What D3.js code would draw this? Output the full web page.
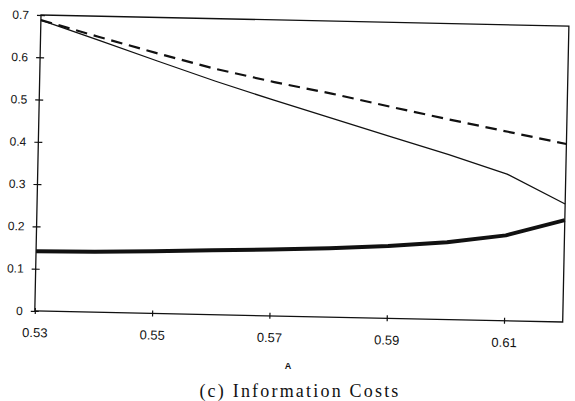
<!DOCTYPE html>
<html>
<head>
<meta charset="utf-8">
<script src="https://cdn.jsdelivr.net/npm/d3@7"></script>
<style>
	body { margin: 0; background: #fff; }
	#graphic { width: 575px; height: 401px; }
	.axis text { font-family: "Liberation Sans", Arial, sans-serif; fill: #111; }
	.axis line { stroke: #111; stroke-width: 1.2; }
</style>
</head>
<body>
<div id="graphic"></div>
<script>
// values (x = A, three series)
var categories = [0.53, 0.54, 0.55, 0.56, 0.57, 0.58, 0.59, 0.60, 0.61, 0.62];
var dashedSeries = [0.688, 0.651, 0.615, 0.581, 0.553, 0.528, 0.500, 0.473, 0.447, 0.421];
var thinSeries = [0.688, 0.643, 0.597, 0.552, 0.510, 0.470, 0.430, 0.390, 0.347, 0.279];
var thickSeries = [0.141, 0.143, 0.147, 0.152, 0.157, 0.163, 0.171, 0.183, 0.202, 0.241];
var xTickLabels = [0.53, 0.55, 0.57, 0.59, 0.61];
var yTickLabels = [0, 0.1, 0.2, 0.3, 0.4, 0.5, 0.6, 0.7];
var xAxisTitle = "A";
var caption = "(c) Information Costs";

var graphic = d3.select("#graphic");

function drawGraphic() {
	var margin = { top: 15, left: 41 };
	var chart_width = 528;
	var height = 296;

	graphic.selectAll("*").remove();

	var svg = graphic
		.append("svg")
		.attr("width", 575)
		.attr("height", 401);

	// the scanned page is slightly turned, so the plot is too
	var g = svg
		.append("g")
		.attr("transform", "translate(" + margin.left + "," + margin.top + ") rotate(1.2)");

	var x = d3.scaleLinear().domain([0.53, 0.62]).range([0, chart_width]);
	var y = d3.scaleLinear().domain([0, 0.7]).range([height, 0]);

	var yAxis = d3
		.axisLeft(y)
		.tickValues(yTickLabels)
		.tickFormat(function(d) {
			return d === 0 ? "0" : d3.format(".1f")(d);
		})
		.tickSizeOuter(0)
		.tickSize(4)
		.tickPadding(8);

	var xAxis = d3
		.axisBottom(x)
		.tickValues(xTickLabels)
		.tickFormat(d3.format(".2f"))
		.tickSizeOuter(0)
		.tickSize(3)
		.tickPadding(14);

	var ya = g.append("g").attr("class", "y axis").call(yAxis);
	ya.select(".domain").remove();
	ya.selectAll("line").attr("x1", -4).attr("x2", 4);
	ya.selectAll("text").style("font-size", "12px");

	var xa = g
		.append("g")
		.attr("class", "x axis")
		.attr("transform", "translate(0," + height + ")")
		.call(xAxis);
	xa.select(".domain").remove();
	xa.selectAll("line").attr("y1", -3).attr("y2", 3);
	xa.selectAll("text").style("font-size", "13px");

	// plot area border
	g.append("rect")
		.attr("x", 0)
		.attr("y", 0)
		.attr("width", chart_width)
		.attr("height", height)
		.attr("fill", "none")
		.attr("stroke", "#111")
		.attr("stroke-width", 1.3);

	var series = [
		{ values: dashedSeries, width: 2.2, dash: "11.5,6.8" },
		{ values: thinSeries, width: 1.3, dash: null },
		{ values: thickSeries, width: 4, dash: null }
	];

	var line = d3
		.line()
		.x(function(d, i) {
			return x(categories[i]);
		})
		.y(function(d) {
			return y(d);
		});

	g.selectAll(".series")
		.data(series)
		.enter()
		.append("path")
		.attr("class", "series")
		.attr("d", function(d) {
			return line(d.values);
		})
		.attr("fill", "none")
		.attr("stroke", "#111")
		.attr("stroke-width", function(d) {
			return d.width;
		})
		.attr("stroke-dasharray", function(d) {
			return d.dash;
		})
		.attr("stroke-linejoin", "round");

	svg.append("text")
		.attr("x", 288)
		.attr("y", 369)
		.attr("text-anchor", "middle")
		.style("font-family", "'Liberation Sans', Arial, sans-serif")
		.style("font-size", "9px")
		.style("font-weight", "bold")
		.attr("fill", "#111")
		.text(xAxisTitle);

	svg.append("text")
		.attr("x", 300)
		.attr("y", 397)
		.attr("text-anchor", "middle")
		.style("font-family", "'Liberation Serif', 'Times New Roman', serif")
		.style("font-size", "18px")
		.style("letter-spacing", "2.2px")
		.attr("fill", "#111")
		.text(caption);
}

drawGraphic();
</script>
</body>
</html>
